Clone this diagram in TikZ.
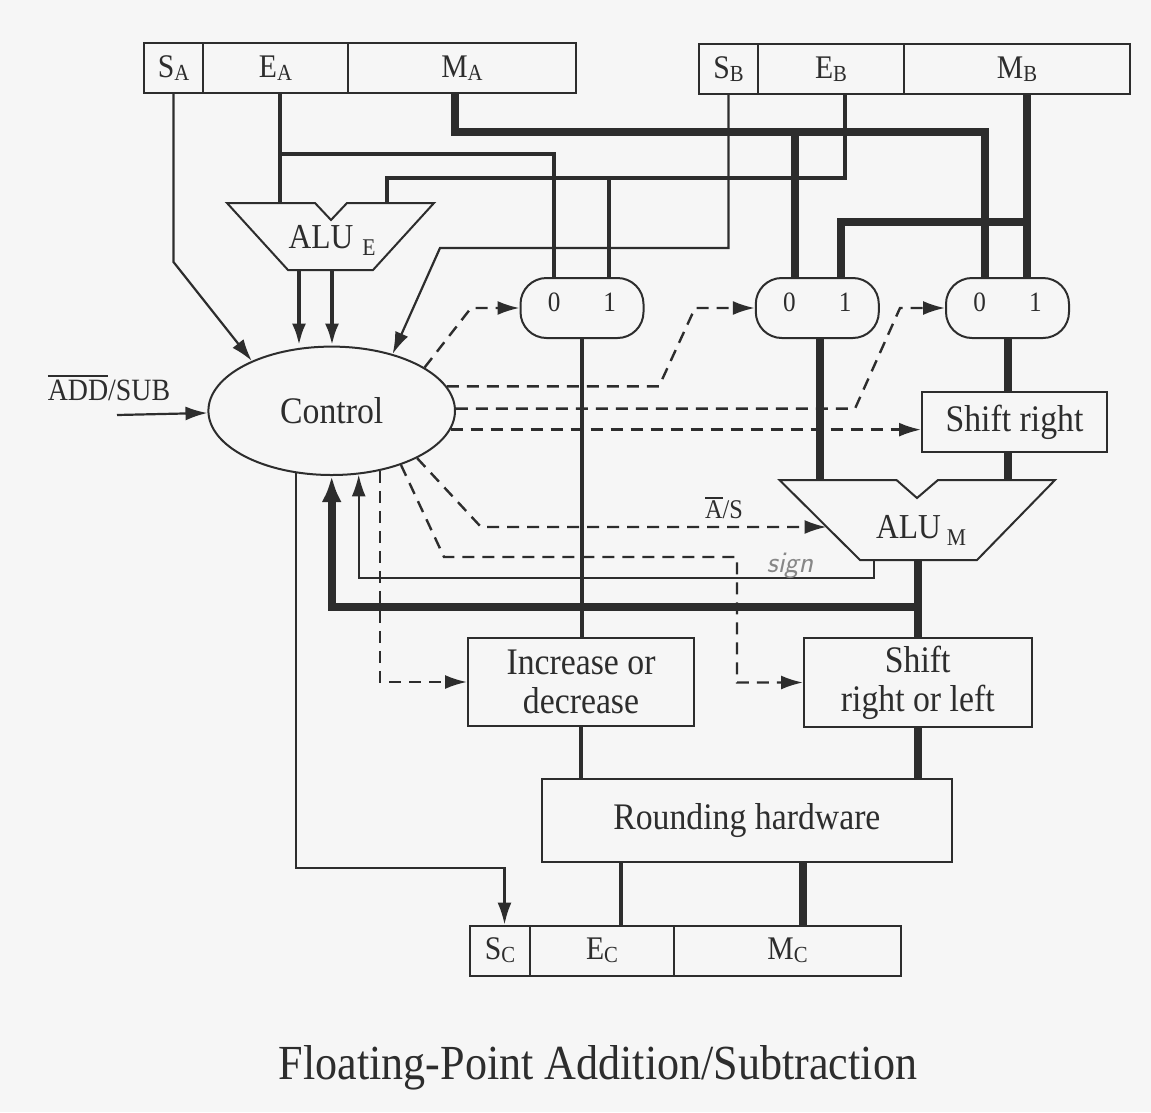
\documentclass[tikz,border=0pt]{standalone}
\usepackage{fontspec}
\setmainfont{Liberation Serif}[FakeStretch=0.9]
\usetikzlibrary{arrows.meta,shapes.geometric}
\definecolor{ink}{RGB}{45,45,45}
\definecolor{paper}{RGB}{246,246,246}
\definecolor{pencil}{RGB}{135,135,135}
\newcommand\fsz[2]{\fontsize{#1}{#2}\selectfont}
\newcommand\lsub[1]{\raisebox{-3pt}{\fsz{23}{23}#1}}
\newcommand\lsubb[1]{\raisebox{-7pt}{\fsz{24}{24}#1}}
\newcommand\ovl[3]{\vbox{\hrule height #1\kern #2\hbox{#3}}}
\begin{document}
\begin{tikzpicture}[x=1pt,y=-1pt,
  every node/.style={text=ink},
  cell/.style={draw=ink,line width=2pt,inner sep=0pt,minimum height=50pt,font=\fsz{33}{36}},
  blk/.style={draw=ink,line width=2pt,inner sep=0pt,align=center,font=\fsz{37.5}{39}},
  muxs/.style={draw=ink,line width=2pt,rounded corners=26pt,minimum width=123pt,minimum height=60pt,inner sep=0pt,font=\fsz{28}{28},text depth=11pt},
  alu/.style={draw=ink,line width=2pt,line join=miter},
  sig/.style={draw=ink,line width=2.2pt},
  ebus/.style={draw=ink,line width=4pt},
  mbus/.style={draw=ink,line width=8pt},
  ctrl/.style={draw=ink,line width=2.4pt,dash pattern=on 12pt off 8pt},
  tipS/.style={-{Latex[length=22pt,width=14pt]}},
  tipL/.style={-{Latex[length=26pt,width=20pt]}},
]
\fill[paper] (0,0) rectangle (1151,1112);
\useasboundingbox (0,0) rectangle (1151,1112);

% registers
\node[cell,minimum width=59pt]  (sA) at (173.5,68) {S\lsub{A}};
\node[cell,minimum width=145pt] (eA) at (275.5,68) {E\lsub{A}};
\node[cell,minimum width=228pt] (mA) at (462,68)   {M\lsub{A}};
\node[cell,minimum width=59pt]  (sB) at (728.5,69) {S\lsub{B}};
\node[cell,minimum width=146pt] (eB) at (831,69)   {E\lsub{B}};
\node[cell,minimum width=226pt] (mB) at (1017,69)  {M\lsub{B}};
\node[cell,minimum width=60pt]  (sC) at (500,950.5)   {S\lsub{C}};
\node[cell,minimum width=144pt] (eC) at (602,950.5)   {E\lsub{C}};
\node[cell,minimum width=227pt] (mC) at (787.5,950.5) {M\lsub{C}};

% control
\node[ellipse,draw=ink,line width=2pt,minimum width=246.6pt,minimum height=128.4pt,inner sep=0pt,font=\fsz{37.5}{39}] (ctl) at (331.7,410.8) {Control};

% multiplexers
\node[muxs] (mux1) at (582,308)    {0\hspace{43pt}1};
\node[muxs] (mux2) at (817.3,308)  {0\hspace{43pt}1};
\node[muxs] (mux3) at (1007.5,308) {0\hspace{43pt}1};

% boxes
\node[blk,minimum width=185pt,minimum height=60pt] (shR) at (1014.5,422) {Shift right};
\node[blk,minimum width=226pt,minimum height=88pt] (inc) at (581,682) {Increase or\\decrease};
\node[blk,minimum width=227.5pt,minimum height=89pt] (srl) at (917.75,682.5) {Shift\\right or left};
\node[blk,line width=2.4pt,minimum width=410pt,minimum height=83pt] (rnd) at (746.9,820.5) {Rounding hardware};

% ALU_E
\draw[alu] (227,203) -- (315,203) -- (331,220) -- (347,203) -- (434,203) -- (373,270) -- (288,270) -- cycle;
\node[font=\fsz{35}{35}] (aluE) at (332,240) {ALU\hspace{9pt}\lsubb{E}};
% ALU_M
\draw[alu] (779.5,480) -- (896.5,480) -- (917,498) -- (938,480) -- (1055,480) -- (977,560) -- (860,560) -- cycle;
\node[font=\fsz{35}{35}] (aluM) at (921,530) {ALU\hspace{6pt}\lsubb{M}};

% named points
\coordinate (aEiA) at (280,203);
\coordinate (aEiB) at (387,203);
\coordinate (aEo1) at (299,270);
\coordinate (aEo2) at (332,270);
\coordinate (aMiA) at (820.3,480);
\coordinate (aMiB) at (1007.5,480);
\coordinate (aMo)  at (918,560);
\coordinate (aMsg) at (874,560);
\coordinate (aMas) at (826.5,527);
\coordinate (m1i0) at ([xshift=-28pt]mux1.north);
\coordinate (m1i1) at ([xshift=27pt]mux1.north);
\coordinate (m2i0) at ([xshift=-22.8pt]mux2.north);
\coordinate (m2i1) at ([xshift=23.7pt]mux2.north);
\coordinate (m3i0) at ([xshift=-23pt]mux3.north);
\coordinate (m3i1) at ([xshift=19.5pt]mux3.north);
\coordinate (saK) at (173.5,262);
\coordinate (sbK) at (440,248);
\coordinate (eaJ) at (280,154);
\coordinate (ebK) at (844.5,178);
\coordinate (maK) at (455,132);
\coordinate (mbY) at (0,222);
\coordinate (fbJ) at (918,607);
\coordinate (sgK) at (874,578);
\coordinate (scK) at (504.5,868);
\coordinate (rE)  at (621,0);
\coordinate (rM)  at (803,0);
\coordinate (k1)  at (471,308);
\coordinate (k2a) at (659,0);
\coordinate (k2b) at (695,308);
\coordinate (k3a) at (855,0);
\coordinate (k3b) at (900,308);
\coordinate (k5)  at (481,527);
\coordinate (k6a) at (444,557);
\coordinate (k6b) at (737,557);
\coordinate (addS) at (117,415);

% sign bits
\draw[sig,tipS] (sA.south) -- (saK) -- (ctl.148.4);
\draw[sig,tipS] (sB.south) |- (sbK) -- (ctl.43.5);
% exponents
\draw[ebus] (eA.south -| aEiA) -- (aEiA);
\draw[ebus] (eaJ) -| (m1i0);
\draw[ebus] (eB.south -| ebK) -- (ebK) -| (aEiB);
\draw[ebus] (m1i1 |- ebK) -- (m1i1);
\draw[ebus,tipS] (aEo1) -- (aEo1 |- ctl.north);
\draw[ebus,tipS] (aEo2) -- (aEo2 |- ctl.north);
% mantissas
\draw[mbus] (mA.south -| maK) -- (maK) -| (m3i0);
\draw[mbus] (m2i0 |- maK) -- (m2i0);
\draw[mbus] (mB.south -| m3i1) -- (m3i1);
\draw[mbus] (m3i1 |- mbY) -| (m2i1);
% datapath
\draw[ebus] (mux1.south) -- (mux1.south |- inc.north);
\draw[mbus] (aMiA |- mux2.south) -- (aMiA);
\draw[mbus] (mux3.south) -- (mux3.south |- shR.north);
\draw[mbus] (shR.south -| mux3.south) -- (aMiB);
\draw[mbus] (aMo) -- (aMo |- srl.north);
\draw[mbus] (srl.south -| aMo) -- (aMo |- rnd.north);
\draw[ebus] (inc.south) -- (inc.south |- rnd.north);
\draw[ebus] (rnd.south -| rE) -- (rE |- eC.north);
\draw[mbus] (rnd.south -| rM) -- (rM |- mC.north);
% feedback
\draw[mbus,tipL] (fbJ) -| (ctl.south);
\draw[sig,tipS] (aMsg) -- (sgK) -| (ctl.293.6);
\draw[sig,tipS] (ctl.240.6) |- (scK) -- (scK |- sC.north);
% add/sub
\node[font=\fsz{31}{31}] (addsub) at (109,388) {\ovl{1.8pt}{3pt}{ADD}/SUB};
\draw[sig,tipS] (addS) -- (ctl.181.9);

% control signals (dashed)
\draw[ctrl,tipS] (ctl.25.7) -- (k1) -- (mux1.west);
\draw[ctrl,tipS] (ctl.12.87) -- (ctl.12.87 -| k2a) -- (k2b) -- (mux2.west);
\draw[ctrl,tipS] (ctl.1.77) -- (ctl.1.77 -| k3a) -- (k3b) -- (mux3.west);
\draw[ctrl,tipS] (ctl.351.76) -- (ctl.351.76 -| shR.west);
\draw[ctrl,tipS] (ctl.331.3) -- (k5) -- (aMas);
\draw[ctrl,tipS] (ctl.322.4) -- (k6a) -- (k6b) |- (srl.west);
\draw[ctrl,tipS] (ctl.309.3) |- (inc.west);

% labels
\node[font=\fsz{27}{27}] (asLbl) at (724,508) {\ovl{1.6pt}{2.5pt}{A}/S};
\node[font=\fsz{30}{30}\sffamily\itshape,text=pencil] (sgLbl) at (790,566) {sign};
\node[font=\fsz{49}{49}] (title) at (598,1068) {Floating-Point Addition/Subtraction};
\end{tikzpicture}
\end{document}
